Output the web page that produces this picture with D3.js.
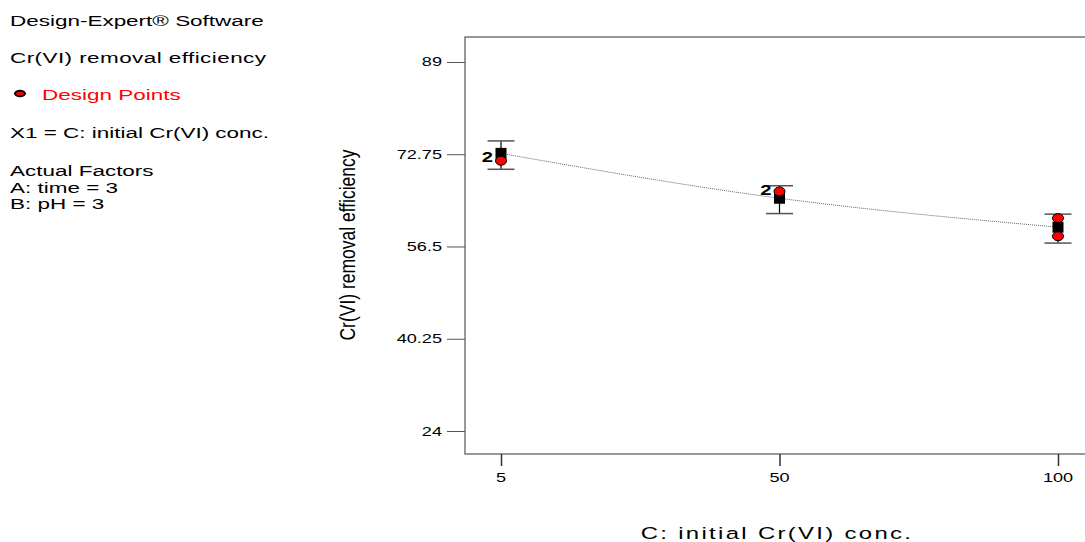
<!DOCTYPE html>
<html>
<head>
<meta charset="utf-8">
<script src="https://cdn.jsdelivr.net/npm/d3@7"></script>
<style>
body { margin: 0; background: #fff; }
text { font-family: "Liberation Sans", Arial, sans-serif; }
</style>
</head>
<body>
<svg id="chart" width="1085" height="542"></svg>
<script>
// factor levels on the x axis
const levels = ["5", "50", "100"];
// predicted mean and confidence band at each level
const predicted = [72.9, 65.0, 59.9];
const ciLow = [70.1, 62.3, 57.1];
const ciHigh = [75.1, 67.2, 62.2];
// actual design points (level, value) and replicate labels
const pointLevel = ["5", "50", "100", "100"];
const pointValue = [71.6, 66.2, 61.5, 58.3];
const repLevel = ["5", "50"];
const repValue = [72.2, 66.4];
const yTicks = [24, 40.25, 56.5, 72.75, 89];

const svg = d3.select("#chart");
const SX = 1.45; // the original export is stretched horizontally

const x = d3.scalePoint().domain(levels).range([501, 1058]);
const y = d3.scaleLinear().domain([19.95, 93.4]).range([454, 37]);

// text drawn with the horizontal stretch
function stext(g, tx, ty, str, size, anchor) {
    return g.append("text")
        .attr("transform", `translate(${tx},${ty}) scale(${SX},1)`)
        .attr("font-size", size)
        .attr("fill", "#000")
        .attr("text-anchor", anchor || "start")
        .text(str);
}

// left side legend text
const info = svg.append("g");
stext(info, 10, 26, "Design-Expert® Software", 15.5);
stext(info, 10, 63, "Cr(VI) removal efficiency", 15.5).attr("letter-spacing", 0.3);
info.append("ellipse").attr("cx", 20).attr("cy", 93.5).attr("rx", 5).attr("ry", 2.8)
    .attr("fill", "red").attr("stroke", "#000").attr("stroke-width", 2);
stext(info, 42, 100, "Design Points", 15.5).attr("fill", "red");
stext(info, 10, 138, "X1 = C: initial Cr(VI) conc.", 15.5);
stext(info, 10, 176, "Actual Factors", 15.5);
stext(info, 10, 193, "A: time = 3", 15.5);
stext(info, 10, 209, "B: pH = 3", 15.5);

// plot frame
svg.append("rect").attr("x", 465).attr("y", 37).attr("width", 640).attr("height", 417)
    .attr("fill", "none").attr("stroke", "#555").attr("stroke-width", 1.2);

// y axis
const yAxis = svg.append("g").attr("transform", "translate(465,0)")
    .call(d3.axisLeft(y).tickValues(yTicks).tickSize(18).tickFormat(""));
yAxis.select(".domain").remove();
yAxis.selectAll(".tick line").attr("stroke", "#555");
yTicks.forEach(v => stext(yAxis, -23, y(v) + 4.5, String(v), 12.5, "end"));

// x axis
const xAxis = svg.append("g").attr("transform", "translate(0,454)")
    .call(d3.axisBottom(x).tickSize(12).tickFormat(""));
xAxis.select(".domain").remove();
xAxis.selectAll(".tick line").attr("stroke", "#333").attr("stroke-width", 1.5);
levels.forEach(lv => stext(xAxis, x(lv), 28, lv, 12.5, "middle"));

// axis titles
svg.append("text").attr("transform", "translate(355,245) rotate(-90) scale(1,1.3)")
    .attr("text-anchor", "middle").attr("font-size", 17.5)
    .text("Cr(VI) removal efficiency");
stext(svg, 777, 539, "C: initial Cr(VI) conc.", 16.5, "middle").attr("letter-spacing", 1.6);

// predicted line
const line = d3.line().x((d, i) => x(levels[i])).y(d => y(d)).curve(d3.curveNatural);
svg.append("path").datum(predicted).attr("d", line)
    .attr("fill", "none").attr("stroke", "#666").attr("stroke-width", 1).attr("stroke-dasharray", "1,1");

// confidence bars
const bars = svg.append("g");
levels.forEach((lv, i) => {
    const cx = x(lv);
    bars.append("line").attr("x1", cx).attr("x2", cx).attr("y1", y(ciHigh[i])).attr("y2", y(ciLow[i]))
        .attr("stroke", "#000").attr("stroke-width", 1.2);
    [ciHigh[i], ciLow[i]].forEach(v => {
        bars.append("line").attr("x1", cx - 13.5).attr("x2", cx + 13.5).attr("y1", y(v)).attr("y2", y(v))
            .attr("stroke", "#555").attr("stroke-width", 1.5);
    });
});

// predicted squares
svg.append("g").selectAll("rect").data(predicted).join("rect")
    .attr("x", (d, i) => x(levels[i]) - 5.5).attr("y", d => y(d) - 5.5)
    .attr("width", 11).attr("height", 11).attr("fill", "#000");

// design points
svg.append("g").selectAll("ellipse").data(pointValue).join("ellipse")
    .attr("cx", (d, i) => x(pointLevel[i])).attr("cy", d => y(d))
    .attr("rx", 5.5).attr("ry", 4.5).attr("fill", "red").attr("stroke", "#000").attr("stroke-width", 1);

// replicate labels
const reps = svg.append("g").attr("font-weight", "bold");
repValue.forEach((v, i) => stext(reps, x(repLevel[i]) - 8, y(v) + 5, "2", 14, "end"));
</script>
</body>
</html>
